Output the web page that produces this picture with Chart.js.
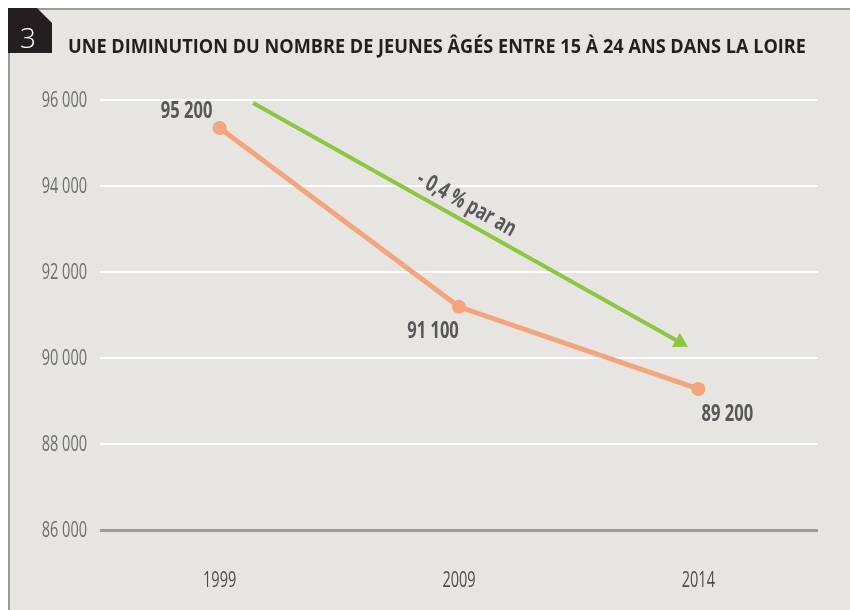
<!DOCTYPE html>
<html>
<head>
<meta charset="utf-8">
<script src="https://cdn.jsdelivr.net/npm/chart.js@4"></script>
<style>
html,body{margin:0;padding:0;background:#fff;}
#wrap{width:850px;height:610px;position:relative;}
</style>
</head>
<body>
<div id="wrap"><canvas id="c" width="850" height="610"></canvas></div>
<script>
const categories = ['1999', '2009', '2014'];
const populationValues = [95350, 91190, 89280];
const pointLabels = ['95 200', '91 100', '89 200'];
const yTicks = [86000, 88000, 90000, 92000, 94000, 96000];
const chartTitle = 'UNE DIMINUTION DU NOMBRE DE JEUNES ÂGÉS ENTRE 15 À 24 ANS DANS LA LOIRE';
const chartNumber = '3';
const trendText = '- 0,4 % par an';
const trendStart = [0.14, 95930];
const trendEnd = [1.957, 90260];

const baseFont = '"Open Sans", "Liberation Sans", sans-serif';

function fmt(v){ return String(v).replace(/\B(?=(\d{3})+(?!\d))/g, ' '); }

function condText(ctx, text, x, y, font, color, align, sx){
  ctx.save();
  ctx.font = font;
  ctx.fillStyle = color;
  ctx.textBaseline = 'alphabetic';
  ctx.textAlign = 'left';
  const w = ctx.measureText(text).width * sx;
  let left = x;
  if (align === 'center') left = x - w/2;
  else if (align === 'right') left = x - w;
  ctx.translate(left, y);
  ctx.scale(sx, 1);
  ctx.fillText(text, 0, 0);
  ctx.restore();
}

const decor = {
  id: 'decor',
  beforeDraw(chart){
    const ctx = chart.ctx;
    ctx.save();
    ctx.fillStyle = '#ffffff';
    ctx.fillRect(0,0,chart.width,chart.height);
    ctx.fillStyle = '#e6e5e2';
    ctx.fillRect(8,8,chart.width-8,chart.height-8);
    ctx.strokeStyle = '#9c9c9c';
    ctx.lineWidth = 2;
    ctx.beginPath();
    ctx.moveTo(9, chart.height); ctx.lineTo(9, 9); ctx.lineTo(chart.width, 9);
    ctx.stroke();
    // number box
    ctx.fillStyle = '#231f20';
    ctx.beginPath();
    ctx.moveTo(8,8); ctx.lineTo(37,8); ctx.lineTo(52,23); ctx.lineTo(52,53); ctx.lineTo(8,53); ctx.closePath();
    ctx.fill();
    ctx.fillStyle = '#ffffff';
    ctx.font = '300 28px ' + baseFont;
    ctx.textAlign = 'center';
    ctx.textBaseline = 'alphabetic';
    ctx.fillText(chartNumber, 28, 48);
    // title
    ctx.fillStyle = '#231f20';
    ctx.font = 'bold 20px ' + baseFont;
    ctx.textAlign = 'left';
    const w = ctx.measureText(chartTitle).width;
    const target = 738;
    ctx.translate(68, 53);
    ctx.scale(target / w, 1);
    ctx.fillText(chartTitle, 0, 0);
    ctx.restore();
  },
  afterDraw(chart){
    const ctx = chart.ctx;
    const xs = chart.scales.x, ys = chart.scales.y;
    // y tick labels
    ys.ticks.forEach(t => {
      const py = ys.getPixelForValue(t.value);
      condText(ctx, fmt(t.value), 87, py + 7, '22px ' + baseFont, '#6d6e71', 'right', 0.66);
    });
    // x tick labels
    categories.forEach((c, i) => {
      const px = xs.getPixelForValue(i);
      condText(ctx, c, px, 587, '22px ' + baseFont, '#4d4d4f', 'center', 0.66);
    });
  },
  afterDatasetsDraw(chart){
    const ctx = chart.ctx;
    const xs = chart.scales.x, ys = chart.scales.y;
    const meta = chart.getDatasetMeta(0);
    // data labels
    const offs = [[-33,-10],[-26,31],[29,32]];
    meta.data.forEach((p,i)=>{
      condText(ctx, pointLabels[i], p.x + offs[i][0], p.y + offs[i][1], 'bold 23px ' + baseFont, '#58585a', 'center', 0.72);
    });
    ctx.save();
    // trend arrow
    const x0 = xs.getPixelForValue(trendStart[0]), y0 = ys.getPixelForValue(trendStart[1]);
    const x1 = xs.getPixelForValue(trendEnd[0]), y1 = ys.getPixelForValue(trendEnd[1]);
    const ang = Math.atan2(y1-y0, x1-x0);
    const headLen = 14, headW = 8;
    const bx = x1 - headLen*Math.cos(ang), by = y1 - headLen*Math.sin(ang);
    ctx.strokeStyle = '#8dc63f';
    ctx.lineWidth = 4;
    ctx.beginPath(); ctx.moveTo(x0,y0); ctx.lineTo(bx+2*Math.cos(ang),by+2*Math.sin(ang)); ctx.stroke();
    ctx.fillStyle = '#8dc63f';
    ctx.beginPath();
    ctx.moveTo(x1,y1);
    ctx.lineTo(bx + headW*Math.sin(ang), by - headW*Math.cos(ang));
    ctx.lineTo(bx - headW*Math.sin(ang), by + headW*Math.cos(ang));
    ctx.closePath(); ctx.fill();
    // trend text
    const mx = (x0+x1)/2 - 12, my = (y0+y1)/2 - 12*Math.tan(ang);
    ctx.translate(mx + 16*Math.sin(ang), my - 16*Math.cos(ang));
    ctx.rotate(ang);
    ctx.font = 'bold 23px ' + baseFont;
    const tw = ctx.measureText(trendText).width * 0.72;
    ctx.scale(0.72, 1);
    ctx.fillStyle = '#58585a';
    ctx.textBaseline = 'middle';
    ctx.textAlign = 'left';
    ctx.fillText(trendText, -tw/2/0.72, 0);
    ctx.restore();
  }
};

new Chart(document.getElementById('c'), {
  type: 'line',
  data: {
    labels: categories,
    datasets: [{
      data: populationValues,
      borderColor: '#f5a57b',
      backgroundColor: '#f5a57b',
      borderWidth: 5,
      pointRadius: 7,
      pointHoverRadius: 7,
      pointBackgroundColor: '#f5a57b',
      pointBorderWidth: 0,
      tension: 0,
      clip: false
    }]
  },
  options: {
    responsive: false,
    animation: false,
    events: [],
    layout: { padding: { top: 100, right: 32, bottom: 0, left: 0 } },
    plugins: { legend: { display: false }, tooltip: { enabled: false } },
    scales: {
      x: {
        offset: true,
        grid: { display: false, drawTicks: false },
        border: { display: false },
        ticks: { color: 'rgba(0,0,0,0)', font: { size: 19 }, padding: 28 },
        afterFit(s){ s.height = 80; }
      },
      y: {
        min: 86000, max: 96000,
        afterBuildTicks(s){ s.ticks = yTicks.map(v=>({value:v})); },
        grid: {
          drawTicks: false,
          color: ctx => ctx.tick && ctx.tick.value === 86000 ? '#9d9d9d' : '#ffffff',
          lineWidth: ctx => ctx.tick && ctx.tick.value === 86000 ? 3 : 2
        },
        border: { display: false },
        ticks: { color: 'rgba(0,0,0,0)', font: { size: 18 }, padding: 13, callback: v => fmt(v) },
        afterFit(s){ s.width = 100; }
      }
    }
  },
  plugins: [decor]
});
</script>
</body>
</html>
